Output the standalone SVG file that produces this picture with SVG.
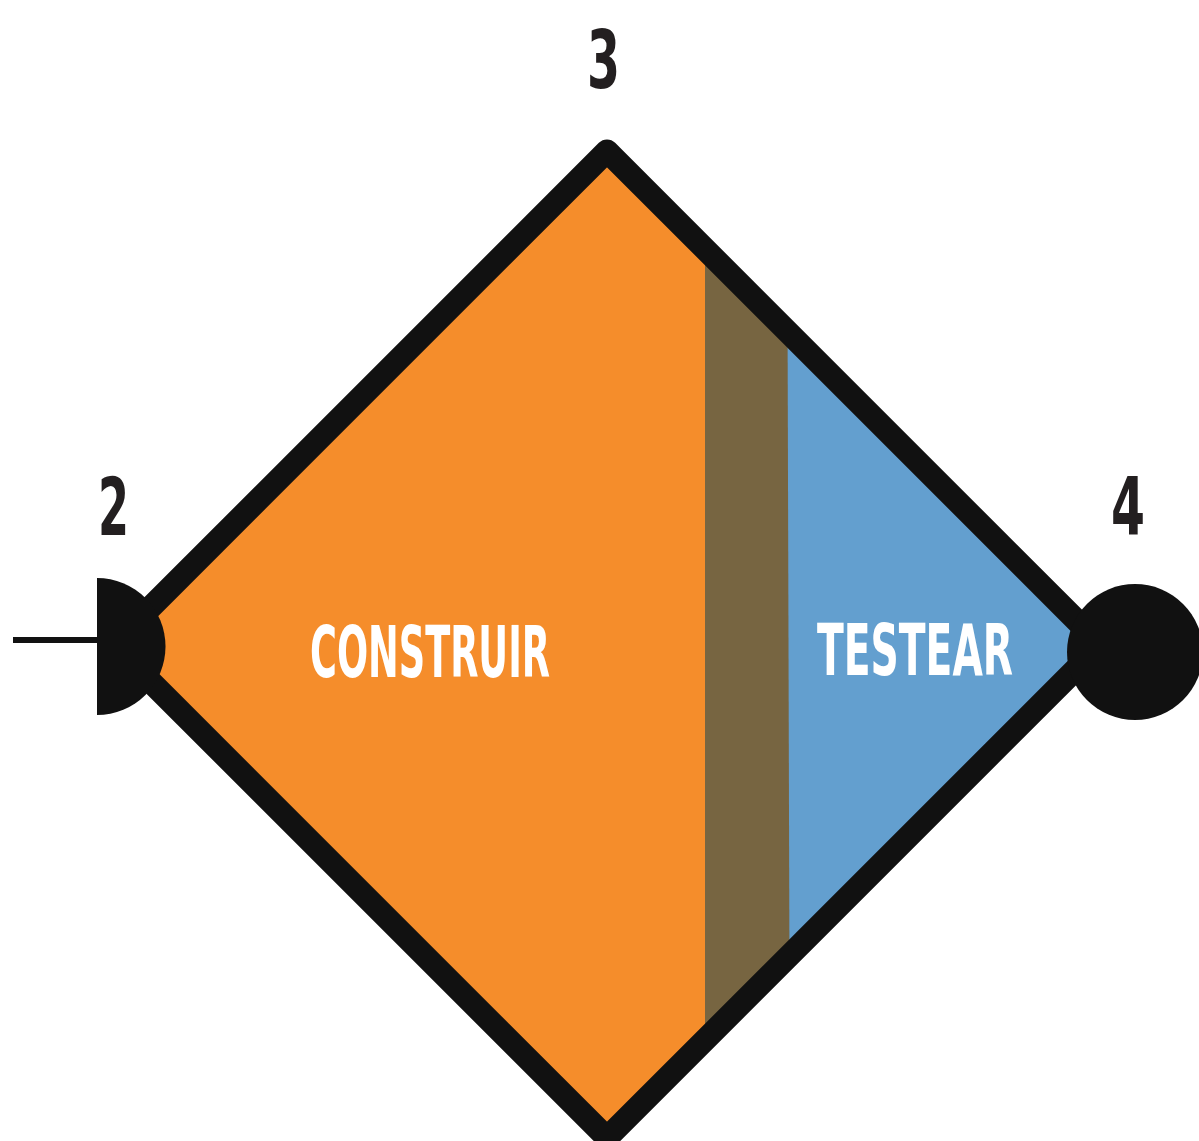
<svg xmlns="http://www.w3.org/2000/svg" width="1199" height="1141" viewBox="0 0 1199 1141">
  <style>
    .num { font-family: "DejaVu Sans Condensed", "DejaVu Sans", sans-serif; font-weight: bold; font-size: 80px; fill: #231f20; }
    .lbl { font-family: "DejaVu Sans Condensed", "DejaVu Sans", sans-serif; font-weight: bold; font-size: 71px; fill: #ffffff; }
    .ink { fill: #111111; }
  </style>
  <defs>
    <clipPath id="diamondClip">
      <polygon points="607,151 1100.5,644.5 607,1138 113.5,644.5"/>
    </clipPath>
  </defs>
  <rect width="1199" height="1141" fill="#ffffff"/>

  <!-- connectors -->
  <g id="connectors">
    <line x1="13" y1="640" x2="98" y2="640" stroke="#111111" stroke-width="6"/>
  </g>

  <!-- main build/test diamond -->
  <g id="diamond">
    <g clip-path="url(#diamondClip)">
      <rect x="100" y="140" width="620" height="1010" fill="#f58d2b"/>
      <rect x="780" y="140" width="340" height="1010" fill="#639fcf"/>
      <polygon points="705,140 787,140 790,1150 705,1150" fill="#776541"/>
    </g>
    <polygon points="607,151 1100.5,644.5 607,1138 113.5,644.5" fill="none" stroke="#111111" stroke-width="23" stroke-linejoin="round"/>
  </g>

  <g id="build-label">
    <text class="lbl" x="310" y="677" textLength="240" lengthAdjust="spacingAndGlyphs">CONSTRUIR</text>
  </g>
  <g id="test-label">
    <text class="lbl" x="817" y="675" textLength="196" lengthAdjust="spacingAndGlyphs">TESTEAR</text>
  </g>

  <!-- entry point: half disc -->
  <g id="start">
    <path class="ink" d="M97,578 A68.5,68.5 0 0 1 97,715 Z"/>
  </g>

  <!-- exit point: full disc -->
  <g id="end">
    <circle class="ink" cx="1135" cy="652" r="68"/>
  </g>

  <!-- step numbers -->
  <g id="step-2">
    <text class="num" x="98" y="535" textLength="31" lengthAdjust="spacingAndGlyphs">2</text>
  </g>
  <g id="step-3">
    <text class="num" x="587" y="88" textLength="33" lengthAdjust="spacingAndGlyphs">3</text>
  </g>
  <g id="step-4">
    <text class="num" x="1111" y="535" textLength="34" lengthAdjust="spacingAndGlyphs">4</text>
  </g>
</svg>
